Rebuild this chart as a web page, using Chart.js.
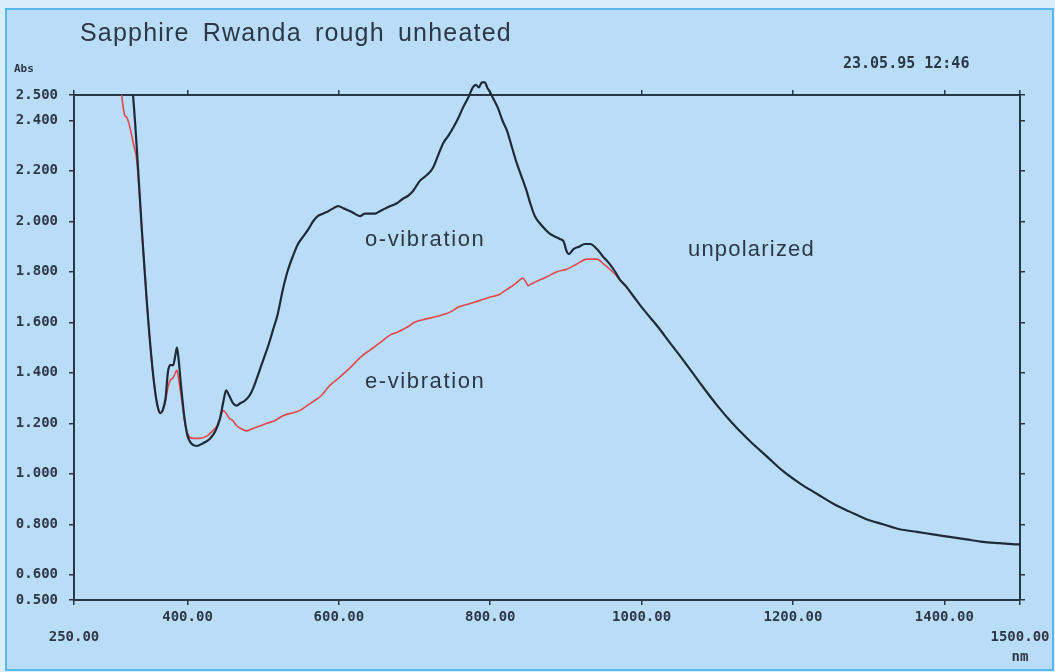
<!DOCTYPE html>
<html><head><meta charset="utf-8">
<script src="https://cdn.jsdelivr.net/npm/chart.js@4.4.1/dist/chart.umd.min.js"></script>
<style>
html,body{margin:0;padding:0;width:1055px;height:672px;overflow:hidden;background:#d8eefb;}
#frame{position:absolute;left:5px;top:8px;width:1045px;height:659px;border:2px solid #58b7ec;background:#b9ddf7;}
#c{position:absolute;left:0;top:0;}
.t{position:absolute;white-space:nowrap;line-height:1;color:#2c3848;}
.sans{font-family:"Liberation Sans",Arial,sans-serif;}
.mono{font-family:"DejaVu Sans Mono",monospace;font-weight:bold;}
</style></head>
<body>
<div id="frame"></div>
<canvas id="c" width="1055" height="672"></canvas>
<div class="t sans" style="left:80px;top:20px;font-size:25px;letter-spacing:1.2px;word-spacing:5px;">Sapphire Rwanda rough unheated</div>
<div class="t mono" style="left:14px;top:62.7px;font-size:11px;">Abs</div>
<div class="t mono" style="left:843px;top:56.3px;font-size:15px;">23.05.95 12:46</div>
<div class="t sans" style="left:365px;top:228.4px;font-size:22px;letter-spacing:1.6px;">o-vibration</div>
<div class="t sans" style="left:365px;top:370.4px;font-size:22px;letter-spacing:1.6px;">e-vibration</div>
<div class="t sans" style="left:688px;top:238.4px;font-size:22px;letter-spacing:1.2px;">unpolarized</div>
<script>
// ---- data (wavelength in nm, absorbance) ----
const oWavelength = [328,331,334,340,346,352,357,361,364,367,371,374,377,381,384,386,388,392,396,400,405,412,420,430,437,443,447,451,455,460,465,470,476,482,487,493,500,507,513,519,526,532,539,546,553,560,566,572,579,586,592,599,607,615,621,628,634,641,648,654,661,668,676,685,691,698,707,715,724,731,738,745,751,758,764,771,777,781,785,789,793,796,800,805,810,816,822,828,835,841,848,853,859,866,872,879,885,892,897,901,904,910,918,925,932,941,949,958,965,971,980,990,1000,1011,1022,1037,1055,1077,1100,1120,1143,1165,1187,1210,1232,1254,1275,1297,1319,1341,1364,1385,1407,1429,1451,1473,1496,1500];
const oAbs = [2.50,2.38,2.24,1.95,1.69,1.47,1.33,1.26,1.24,1.25,1.30,1.40,1.43,1.43,1.47,1.50,1.46,1.33,1.22,1.15,1.12,1.11,1.12,1.14,1.17,1.22,1.28,1.33,1.31,1.28,1.27,1.28,1.29,1.31,1.34,1.39,1.45,1.51,1.57,1.63,1.73,1.80,1.86,1.91,1.94,1.97,2.00,2.02,2.03,2.04,2.05,2.06,2.05,2.04,2.03,2.02,2.03,2.03,2.03,2.04,2.05,2.06,2.07,2.09,2.10,2.12,2.16,2.18,2.21,2.26,2.31,2.34,2.37,2.41,2.45,2.49,2.53,2.54,2.53,2.55,2.55,2.53,2.51,2.48,2.45,2.40,2.36,2.30,2.23,2.18,2.12,2.07,2.02,1.99,1.97,1.95,1.94,1.93,1.92,1.88,1.87,1.89,1.90,1.91,1.91,1.89,1.86,1.83,1.80,1.77,1.74,1.70,1.66,1.62,1.58,1.52,1.45,1.36,1.27,1.20,1.13,1.07,1.01,0.96,0.92,0.88,0.85,0.82,0.80,0.78,0.77,0.76,0.75,0.74,0.73,0.725,0.72,0.72];
const eWavelength = [313,315,317,320,324,329,333,340,346,352,357,361,364,367,371,374,377,381,384,386,388,392,396,400,407,415,426,433,439,443,447,451,455,460,465,470,478,487,496,505,515,526,537,548,558,568,577,588,600,615,628,641,655,668,677,690,700,711,725,737,747,758,769,780,790,800,812,822,832,840,843,847,850,853,860,867,875,888,901,914,928,935,941,950,958,965,971,980,990];
const eAbs = [2.50,2.45,2.42,2.41,2.37,2.30,2.24,1.95,1.69,1.47,1.33,1.26,1.24,1.25,1.29,1.34,1.37,1.38,1.40,1.41,1.38,1.30,1.21,1.16,1.14,1.14,1.15,1.17,1.19,1.22,1.25,1.24,1.22,1.21,1.19,1.18,1.17,1.18,1.19,1.20,1.21,1.23,1.24,1.25,1.27,1.29,1.31,1.35,1.38,1.42,1.46,1.49,1.52,1.55,1.56,1.58,1.60,1.61,1.62,1.63,1.64,1.66,1.67,1.68,1.69,1.70,1.71,1.73,1.75,1.77,1.775,1.76,1.745,1.75,1.76,1.77,1.78,1.80,1.81,1.83,1.85,1.85,1.85,1.83,1.81,1.79,1.77,1.74,1.70];
const xTickValues = [250,400,600,800,1000,1200,1400,1500];
const xTickLabels = [['','250.00'],'400.00','600.00','800.00','1000.00','1200.00','1400.00',['','1500.00','nm']];
const yTickValues = [0.5,0.6,0.8,1.0,1.2,1.4,1.6,1.8,2.0,2.2,2.4,2.5];
const yTickLabels = ['0.500','0.600','0.800','1.000','1.200','1.400','1.600','1.800','2.000','2.200','2.400','2.500'];

const AX = '#2b3645';
const tickFont = {family:'"DejaVu Sans Mono", monospace', size:14, weight:'bold', lineHeight:'20px'};
function gridOpt(){return {drawOnChartArea:false, drawTicks:true, tickLength:5, color:AX, lineWidth:1.5};}
function borderOpt(){return {display:true, color:AX, width:2};}

new Chart(document.getElementById('c'), {
  type:'line',
  data:{datasets:[
    {label:'o-vibration', data:oWavelength.map((x,i)=>({x:x,y:oAbs[i]})), borderColor:'#1f2a39', borderWidth:2.2, pointRadius:0, cubicInterpolationMode:'monotone', clip:false, xAxisID:'x', yAxisID:'y'},
    {label:'e-vibration', data:eWavelength.map((x,i)=>({x:x,y:eAbs[i]})), borderColor:'#e2484d', borderWidth:1.6, pointRadius:0, cubicInterpolationMode:'monotone', clip:false, xAxisID:'x', yAxisID:'y'}
  ]},
  options:{
    responsive:false, animation:false, devicePixelRatio:1,
    layout:{padding:0},
    plugins:{legend:{display:false}, tooltip:{enabled:false}, title:{display:false}},
    scales:{
      x:{type:'linear', position:'bottom', min:250, max:1500,
        afterBuildTicks:a=>{a.ticks=xTickValues.map(v=>({value:v}));},
        afterFit:s=>{s.height=72;},
        ticks:{autoSkip:false, maxRotation:0, padding:2, color:'#2e3846', font:tickFont, callback:(v,i)=>xTickLabels[i]},
        grid:gridOpt(), border:borderOpt()},
      x2:{type:'linear', position:'top', min:250, max:1500,
        afterBuildTicks:a=>{a.ticks=xTickValues.map(v=>({value:v}));},
        afterFit:s=>{s.height=95;},
        ticks:{display:false}, grid:gridOpt(), border:borderOpt()},
      y:{type:'linear', position:'left', min:0.5, max:2.5,
        afterBuildTicks:a=>{a.ticks=yTickValues.map(v=>({value:v}));},
        afterFit:s=>{s.width=74;},
        ticks:{autoSkip:false, padding:11, color:'#2e3846', font:{family:'"DejaVu Sans Mono", monospace', size:14, weight:'bold'}, callback:(v,i)=>yTickLabels[i]},
        grid:gridOpt(), border:borderOpt()},
      y2:{type:'linear', position:'right', min:0.5, max:2.5,
        afterBuildTicks:a=>{a.ticks=yTickValues.map(v=>({value:v}));},
        afterFit:s=>{s.width=35;},
        ticks:{display:false}, grid:gridOpt(), border:borderOpt()}
    }
  }
});
</script>
</body></html>
